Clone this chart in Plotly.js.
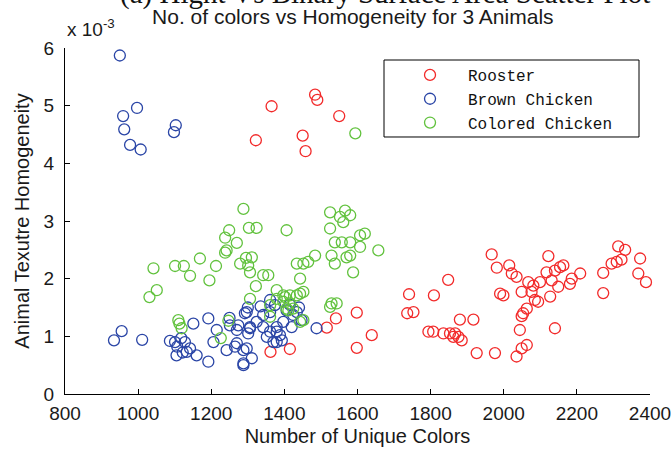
<!DOCTYPE html>
<html>
<head>
<meta charset="utf-8">
<script src="https://cdn.plot.ly/plotly-3.0.1.min.js"></script>
<style>html,body{margin:0;padding:0;background:#fff;}#chart{width:671px;height:452px;}</style>
</head>
<body>
<div id="chart"></div>
<script>
// Values: x = number of unique colors, y = homogeneity in units of 1e-3
const roosterX = [1365,1322,1484,1490,1550,1450,1458,
  1516,1541,1598,1639,1598,1362,1415,
  1741,1736,1753,
  1848,1809,1967,1981,2015,2022,2035,1990,1999,2049,2067,2081,2099,2122,2117,2140,2154,2163,2186,2209,2131,2149,2181,2076,2127,2094,2085,2063,2053,2049,2044,2140,2063,2049,2035,1976,1926,1880,1917,1794,1807,1835,1853,1867,1876,1885,1862,
  2272,2272,2295,2309,2322,2313,2332,2373,2368,2389];
const roosterY = [4.99,4.40,5.19,5.10,4.82,4.48,4.21,
  1.15,1.31,1.41,1.02,0.80,0.73,0.78,
  1.73,1.40,1.42,
  1.98,1.71,2.42,2.19,2.23,2.09,2.03,1.74,1.71,1.77,1.94,1.88,1.94,2.39,2.11,2.14,2.20,2.23,2.00,2.09,1.97,1.86,1.91,1.77,1.69,1.60,1.63,1.48,1.40,1.35,1.11,1.14,0.85,0.79,0.65,0.71,0.71,1.29,1.29,1.08,1.08,1.05,1.05,1.05,0.99,0.93,0.99,
  2.10,1.75,2.26,2.29,2.33,2.56,2.50,2.35,2.09,1.94];

const brownX = [950,997,959,962,978,1007,1103,1098,
  934,955,1011,
  1087,1101,1107,1128,1142,1151,1133,1105,1160,1192,1192,1206,1215,1242,1270,1288,1297,1311,1297,1274,1306,1251,
  1292,1306,1301,1270,1265,1288,1288,1342,1352,1370,1393,1379,1406,1447,1434,1361,1374,1488,
  1361,1342,1424,1397,1379,1361,1324,1388,1379,1420,
  1118,1122,1250,1335,1415,1440,1300];
const brownY = [5.87,4.96,4.82,4.59,4.32,4.24,4.66,4.54,
  0.93,1.09,0.94,
  0.92,0.90,0.82,0.90,0.79,1.22,0.73,0.67,0.67,1.31,0.56,0.90,1.11,0.76,0.88,0.50,0.79,0.62,1.42,1.19,1.14,1.19,
  1.40,1.16,1.05,1.11,0.82,0.76,0.53,1.16,0.99,0.90,0.93,1.08,1.45,1.28,1.42,1.63,1.54,1.14,
  1.42,1.37,1.37,1.25,1.16,1.08,1.25,1.02,0.90,1.16,
  0.97,0.72,1.32,1.52,1.55,1.50,1.50];

const coloredX = [1594,
  1288,1303,1324,1249,1238,1270,1242,1238,1169,1101,1125,1042,1213,1142,1195,1295,1279,1301,1306,1322,1051,1031,1306,1110,1113,1119,1247,1226,
  1525,1566,1580,1552,1525,1561,1607,1620,1657,1538,1557,1580,1607,1529,1538,1570,1580,1588,1406,1484,1465,1452,1434,1342,1356,1443,1379,1452,1529,1543,1525,1434,1415,1397,1397,1415,1424,1406,1452,1379,1361,1311,
  1402,1443,1411,1361,1443];
const coloredY = [4.52,
  3.21,2.88,2.88,2.84,2.71,2.62,2.49,2.45,2.35,2.22,2.22,2.18,2.22,2.05,1.97,2.36,2.26,2.23,2.11,1.87,1.80,1.68,1.65,1.28,1.22,1.14,1.27,0.97,
  3.15,3.18,3.10,3.07,2.87,2.98,2.75,2.78,2.49,2.63,2.63,2.63,2.55,2.40,2.26,2.37,2.40,2.11,2.84,2.40,2.29,2.26,2.26,2.06,2.06,2.00,1.80,1.77,1.57,1.57,1.51,1.71,1.71,1.71,1.60,1.57,1.48,1.48,1.28,1.65,1.54,2.37,
  1.68,1.74,1.45,1.34,1.25];

const seriesNames = ['Rooster', 'Brown Chicken', 'Colored Chicken'];
const xTicks = [800,1000,1200,1400,1600,1800,2000,2200,2400];
const yTicks = [0,1,2,3,4,5,6];

function mk(x, y, name, color) {
  return {
    x: x, y: y, name: name, type: 'scatter', mode: 'markers',
    marker: {symbol: 'circle-open', size: 11, color: color, line: {width: 1.3, color: color}},
    cliponaxis: false
  };
}

const data = [
  mk(roosterX, roosterY, seriesNames[0], '#f22a2a'),
  mk(brownX, brownY, seriesNames[1], '#2a45a6'),
  mk(coloredX, coloredY, seriesNames[2], '#62c23e')
];

const F = 'Liberation Sans, Arial, sans-serif';
const layout = {
  width: 671, height: 452,
  paper_bgcolor: '#fff', plot_bgcolor: '#fff',
  margin: {l: 65, r: 21, t: 48, b: 58},
  showlegend: true,
  title: {text: 'No. of colors vs Homogeneity for 3 Animals', font: {family: F, size: 21, color: '#1a1a1a'},
          x: 0.492, xref: 'paper', xanchor: 'center', y: 1.0116, yref: 'paper', yanchor: 'bottom'},
  xaxis: {
    range: [800, 2400], tickvals: xTicks, ticktext: xTicks.map(String),
    showline: true, linecolor: '#000', linewidth: 1, mirror: false,
    ticks: 'inside', ticklen: 5, tickcolor: '#000', showgrid: false, zeroline: false,
    tickfont: {family: F, size: 19, color: '#1a1a1a'}, ticklabelstandoff: 2, ticklabeloverflow: 'allow',
    title: {text: 'Number of Unique Colors', font: {family: F, size: 20, color: '#1a1a1a'}, standoff: 6}
  },
  yaxis: {
    range: [0, 6], tickvals: yTicks, ticktext: yTicks.map(String),
    showline: true, linecolor: '#000', linewidth: 1, mirror: false,
    ticks: 'inside', ticklen: 5, tickcolor: '#000', showgrid: false, zeroline: false,
    tickfont: {family: F, size: 19, color: '#1a1a1a'}, ticklabelstandoff: 6, ticklabeloverflow: 'allow',
    title: {text: 'Animal Texutre Homogeneity', font: {family: F, size: 20, color: '#1a1a1a'}, standoff: 8}
  },
  legend: {
    x: 0.559, xanchor: 'left', y: 0.971, yanchor: 'top',
    bgcolor: 'rgba(0,0,0,0)', borderwidth: 0, itemwidth: 66,
    font: {family: 'Liberation Mono, Courier New, monospace', size: 16, color: '#111'},
    tracegroupgap: 0
  },
  shapes: [{type: 'rect', xref: 'paper', yref: 'paper', x0: 0.5453, x1: 0.9812, y0: 0.7428, y1: 0.9653,
            line: {color: '#000', width: 1}, fillcolor: '#fff', layer: 'below'}],
  annotations: [
    {text: 'x 10<sup>-3</sup>', xref: 'paper', yref: 'paper', x: 0, y: 1.017, xanchor: 'left', yanchor: 'bottom',
     showarrow: false, font: {family: F, size: 19, color: '#1a1a1a'}},
    {text: '(a) Hight Vs Binary Surface Area Scatter Plot', xref: 'paper', yref: 'paper', x: 0.547, y: 1.104,
     xanchor: 'center', yanchor: 'bottom', showarrow: false, font: {family: 'Liberation Serif, Times New Roman, serif', size: 29, color: '#111'}}
  ]
};

Plotly.newPlot('chart', data, layout, {displayModeBar: false, staticPlot: true});
</script>
</body>
</html>
